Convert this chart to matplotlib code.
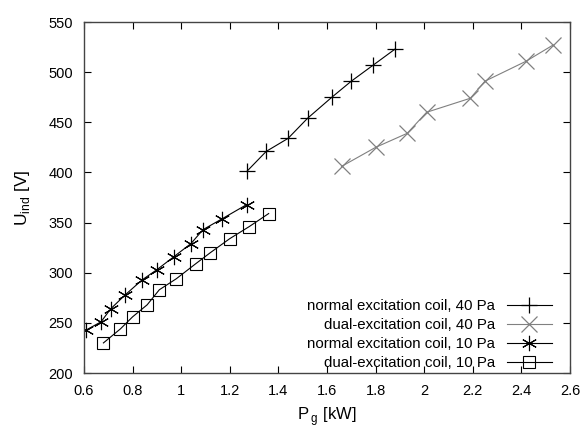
import matplotlib
matplotlib.use("Agg")
import matplotlib.pyplot as plt

plt.rcParams['font.family'] = ['Liberation Sans', 'DejaVu Sans']
plt.rcParams['mathtext.fontset'] = 'custom'
plt.rcParams['mathtext.rm'] = 'Liberation Sans'

# normal excitation coil, 40 Pa
p_n40 = [1.27, 1.35, 1.44, 1.52, 1.62, 1.70, 1.79, 1.88]
u_n40 = [401, 421, 434, 454, 475, 491, 507, 523]

# dual-excitation coil, 40 Pa
p_d40 = [1.66, 1.80, 1.93, 2.01, 2.19, 2.25, 2.42, 2.53]
u_d40 = [406, 425, 439, 460, 474, 491, 511, 527]

# normal excitation coil, 10 Pa
p_n10 = [0.61, 0.67, 0.71, 0.77, 0.84, 0.90, 0.97, 1.04, 1.09, 1.17, 1.27]
u_n10 = [243, 251, 264, 278, 293, 303, 316, 329, 343, 354, 368]

# dual-excitation coil, 10 Pa
p_d10 = [0.68, 0.75, 0.80, 0.86, 0.91, 0.98, 1.06, 1.12, 1.20, 1.28, 1.36]
u_d10 = [230, 244, 256, 268, 283, 294, 309, 320, 334, 346, 359]

labels = ["normal excitation coil, 40 Pa", "dual-excitation coil, 40 Pa",
          "normal excitation coil, 10 Pa", "dual-excitation coil, 10 Pa"]

fig = plt.figure(figsize=(5.82, 4.28), dpi=100)
ax = fig.add_axes([0.1443, 0.1285, 0.835, 0.82])

lw = 0.8
ax.plot(p_n40, u_n40, color="black", lw=lw, marker="+", ms=12, mew=0.9, label=labels[0])
ax.plot(p_d40, u_d40, color="#808080", lw=lw, marker="x", ms=11, mew=0.9, label=labels[1])
ax.plot(p_n10, u_n10, color="black", lw=lw, marker=(6, 2, 0), ms=11, mew=0.8, label=labels[2])
ax.plot(p_d10, u_d10, color="black", lw=lw, marker="s", ms=8, mew=0.8,
        markerfacecolor="none", label=labels[3])

ax.set_xlim(0.6, 2.6)
ax.set_ylim(200, 550)
ax.set_xticks([0.6, 0.8, 1, 1.2, 1.4, 1.6, 1.8, 2, 2.2, 2.4, 2.6])
ax.set_xticklabels(["0.6", "0.8", "1", "1.2", "1.4", "1.6", "1.8", "2", "2.2", "2.4", "2.6"])
ax.set_yticks(range(200, 551, 50))
ax.tick_params(direction="in", top=True, right=True, length=5, width=0.8,
               labelsize=10.5, pad=8)
for s in ax.spines.values():
    s.set_linewidth(1.0)
    s.set_color("#444444")

ax.set_xlabel("P$\\,_{\\mathregular{g}}$ [kW]", fontsize=12, labelpad=5)
ax.set_ylabel("U$_{\\mathregular{ind}}$ [V]", fontsize=12.5, labelpad=12)

ax.legend(loc="lower right", bbox_to_anchor=(0.975, -0.008), frameon=False,
          markerfirst=False, fontsize=10.8, handlelength=3.0, labelspacing=0.32,
          borderaxespad=0.0)

fig.savefig("out.png", dpi=100)
